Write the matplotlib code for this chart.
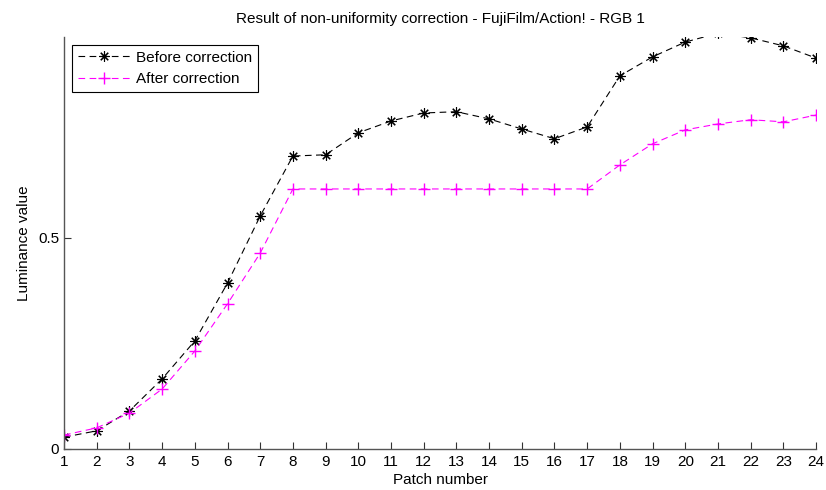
import matplotlib
matplotlib.use("Agg")
import matplotlib.pyplot as plt

# Patch numbers and luminance values
patches = list(range(1, 25))
before = [0.028, 0.043, 0.090, 0.166, 0.256, 0.393, 0.552, 0.694, 0.697, 0.749,
          0.777, 0.796, 0.799, 0.782, 0.758, 0.735, 0.763, 0.884, 0.929, 0.964,
          0.985, 0.974, 0.955, 0.926]
after = [0.033, 0.050, 0.085, 0.142, 0.232, 0.344, 0.464, 0.616, 0.616, 0.616,
         0.616, 0.616, 0.616, 0.616, 0.616, 0.616, 0.616, 0.673, 0.723, 0.756,
         0.770, 0.780, 0.775, 0.791]
yticks = [0, 0.5]
ytick_labels = ["0", "0.5"]

plt.rcParams["font.family"] = ["Liberation Sans", "DejaVu Sans"]
plt.rcParams["font.size"] = 11

fig = plt.figure(figsize=(8.26, 4.9), dpi=100)
ax = fig.add_axes([0.0775, 0.0837, 0.9105, 0.8408])

# asterisk marker like MATLAB's '*'
ax.plot(patches, before, color="black", linestyle=(0, (6, 4)), linewidth=0.8,
        marker=(8, 2, 0), markersize=7.5, markeredgewidth=0.8, label="Before correction")
ax.plot(patches, after, color="#ff00ff", linestyle=(0, (6, 4)), linewidth=0.8,
        marker="+", markersize=9, markeredgewidth=1.0, label="After correction")

ax.set_xlim(1, 24)
ax.set_ylim(0, 0.976)
ax.set_xticks(patches)
ax.set_yticks(yticks)
ax.set_yticklabels(ytick_labels)
ax.tick_params(direction="in", length=5, width=0.8, color="#333333", labelsize=11)
ax.tick_params(axis="x", pad=4)
for s in ["top", "right"]:
    ax.spines[s].set_visible(False)
for s in ["left", "bottom"]:
    ax.spines[s].set_color("#555555")
    ax.spines[s].set_linewidth(1.0)

ax.set_title("Result of non-uniformity correction - FujiFilm/Action! - RGB 1",
             fontsize=11, pad=10)
ax.set_xlabel("Patch number", fontsize=11, labelpad=3)
ax.set_ylabel("Luminance value", fontsize=11, labelpad=5)

leg = ax.legend(loc="upper left", fancybox=False, framealpha=1, edgecolor="black",
                borderaxespad=0.5, handlelength=3.4, handletextpad=0.4,
                borderpad=0.4, fontsize=11)
leg.get_frame().set_linewidth(0.8)

fig.savefig("out.png", dpi=100)
